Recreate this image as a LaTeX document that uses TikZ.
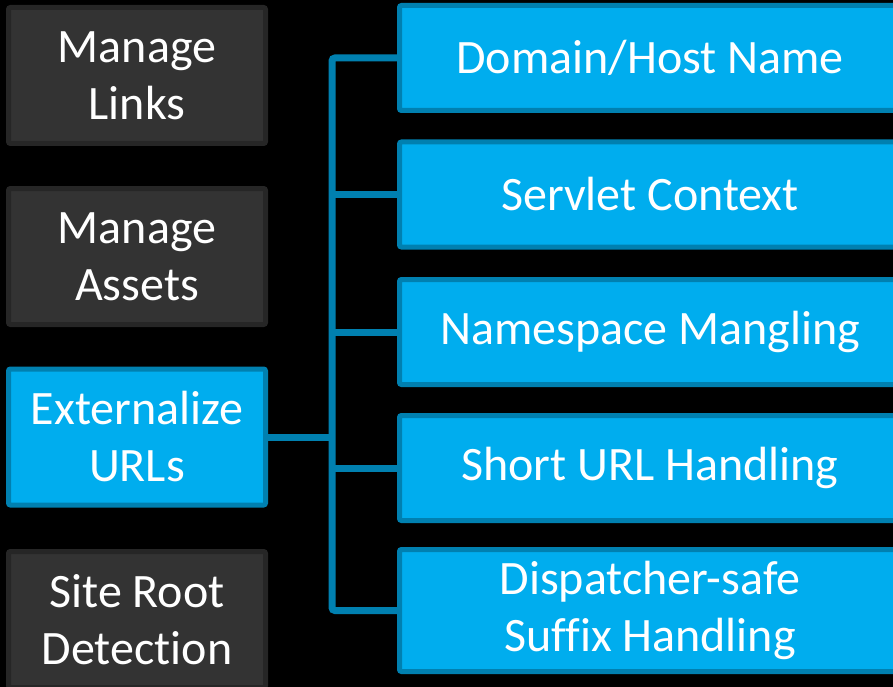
\documentclass[tikz,border=0pt]{standalone}
\usepackage{fontspec}
\setmainfont[Ligatures=NoCommon]{Carlito}
\definecolor{PanelGrey}{RGB}{51, 51, 51}
\definecolor{PanelEdge}{RGB}{38, 38, 38}
\definecolor{SkyBlue}{RGB}{0, 173, 238}
\definecolor{SkyEdge}{RGB}{0, 128, 176}

\begin{document}
\begin{tikzpicture}[x=1pt, y=-1pt,
        feature/.style={draw=PanelEdge, fill=PanelGrey, line width=5pt, rounded corners=2pt, minimum width=257pt, minimum height=136pt, inner sep=0pt, text=white, align=center, font=\fontsize{48}{57}\selectfont},
        active/.style={feature, draw=SkyEdge, fill=SkyBlue},
        part/.style={active, minimum width=501pt, minimum height=105pt},
        bus/.style={draw=SkyEdge, line width=7pt, rounded corners=3pt}
    ]
        \fill[black] (0,0) rectangle (893,687);
        \useasboundingbox (0,0) rectangle (893,687);

        \node[feature] (ml) at (137, 75.5) {Manage\\Links};
        \node[feature] (ma) at (137, 256.5) {Manage\\Assets};
        \node[active] (ext) at (137, 437) {Externalize\\URLs};
        \node[feature] (srd) at (137, 619.5) {Site Root\\Detection};

        \node[part] (dom) at (650, 58) {Domain/Host Name};
        \node[part] (svc) at (650, 194.5) {Servlet Context};
        \node[part] (nsm) at (650, 332) {Namespace Mangling};
        \node[part] (surl) at (650, 468) {Short URL Handling};
        \node[part, minimum height=122pt] (disp) at (650, 610.5) {Dispatcher-safe\\Suffix Handling};

        \coordinate (hub) at (332, 437);
        \draw[bus] (dom.west) -| (hub) |- (disp.west);
        \draw[bus] (ext.east) -- (hub);
        \draw[bus] (hub |- svc.west) -- (svc.west);
        \draw[bus] (hub |- nsm.west) -- (nsm.west);
        \draw[bus] (hub |- surl.west) -- (surl.west);
    \end{tikzpicture}
\end{document}
